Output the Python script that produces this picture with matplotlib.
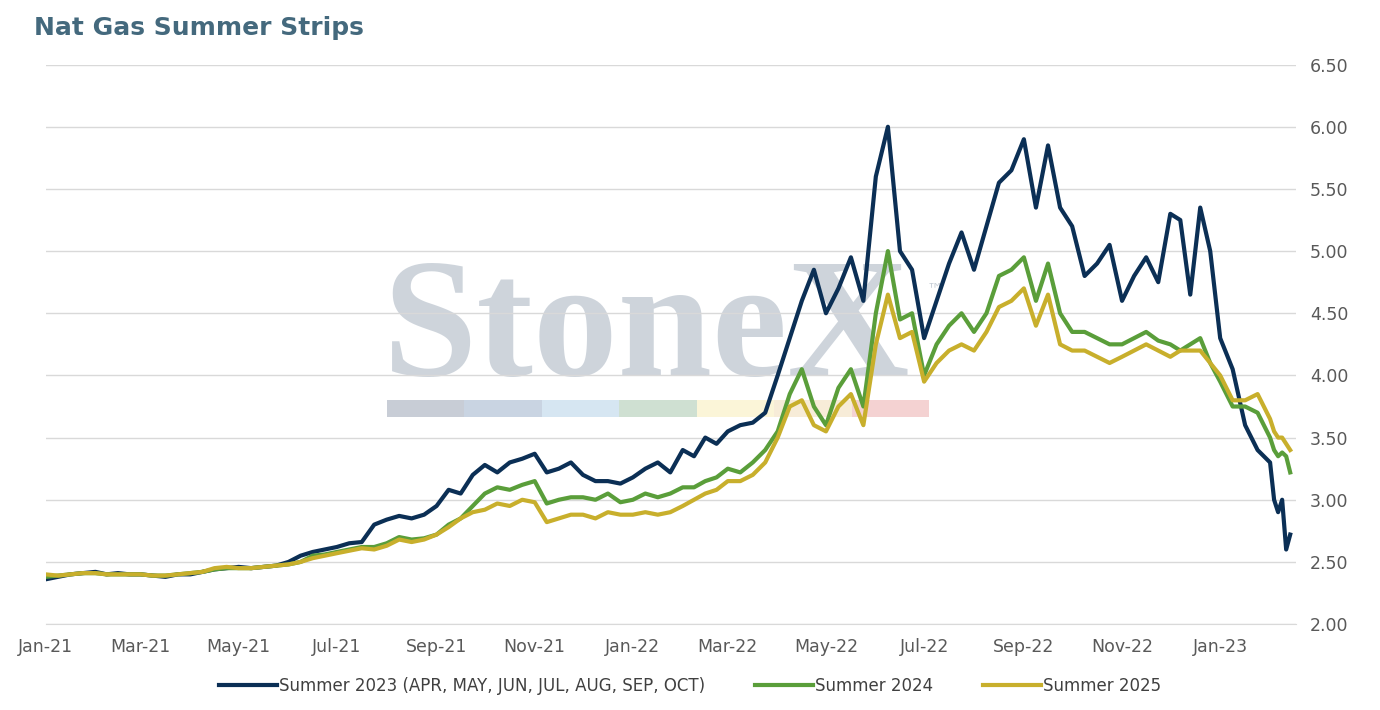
import calendar
import pandas as pd
import matplotlib.pyplot as plt
import matplotlib.dates as mdates
from matplotlib.patches import Rectangle

# values per month, spread evenly through the month
months = pd.date_range('2021-01-01', '2023-02-01', freq='MS')

s23 = [
    [2.36, 2.38, 2.40, 2.41], [2.42, 2.40, 2.41, 2.40], [2.40, 2.39, 2.38, 2.40],
    [2.40, 2.42, 2.44, 2.45], [2.46, 2.45, 2.46, 2.47], [2.50, 2.55, 2.58, 2.60],
    [2.62, 2.65, 2.66, 2.80], [2.84, 2.87, 2.85, 2.88], [2.95, 3.08, 3.05, 3.20],
    [3.28, 3.22, 3.30, 3.33], [3.37, 3.22, 3.25, 3.30], [3.20, 3.15, 3.15, 3.13],
    [3.18, 3.25, 3.30, 3.22], [3.40, 3.35, 3.50, 3.45], [3.55, 3.60, 3.62, 3.70],
    [4.00, 4.30, 4.60, 4.85], [4.50, 4.70, 4.95, 4.60], [5.60, 6.00, 5.00, 4.85],
    [4.30, 4.60, 4.90, 5.15], [4.85, 5.20, 5.55, 5.65], [5.90, 5.35, 5.85, 5.35],
    [5.20, 4.80, 4.90, 5.05], [4.60, 4.80, 4.95, 4.75], [5.30, 5.25, 4.65, 5.35, 5.00],
    [4.30, 4.05, 3.60, 3.40], [3.30, 3.00, 2.90, 3.00, 2.60, 2.72],
]
s24 = [
    [2.38, 2.39, 2.40, 2.41], [2.41, 2.40, 2.40, 2.40], [2.40, 2.39, 2.39, 2.40],
    [2.41, 2.42, 2.44, 2.45], [2.45, 2.45, 2.46, 2.47], [2.48, 2.50, 2.55, 2.56],
    [2.58, 2.60, 2.62, 2.62], [2.65, 2.70, 2.68, 2.69], [2.72, 2.80, 2.85, 2.95],
    [3.05, 3.10, 3.08, 3.12], [3.15, 2.97, 3.00, 3.02], [3.02, 3.00, 3.05, 2.98],
    [3.00, 3.05, 3.02, 3.05], [3.10, 3.10, 3.15, 3.18], [3.25, 3.22, 3.30, 3.40],
    [3.55, 3.85, 4.05, 3.75], [3.60, 3.90, 4.05, 3.75], [4.50, 5.00, 4.45, 4.50],
    [4.00, 4.25, 4.40, 4.50], [4.35, 4.50, 4.80, 4.85], [4.95, 4.60, 4.90, 4.50],
    [4.35, 4.35, 4.30, 4.25], [4.25, 4.30, 4.35, 4.28], [4.25, 4.20, 4.25, 4.30, 4.10],
    [3.95, 3.75, 3.75, 3.70], [3.50, 3.40, 3.35, 3.38, 3.35, 3.22],
]
s25 = [
    [2.40, 2.39, 2.40, 2.41], [2.41, 2.40, 2.40, 2.40], [2.40, 2.39, 2.39, 2.40],
    [2.41, 2.42, 2.45, 2.46], [2.45, 2.45, 2.46, 2.47], [2.48, 2.50, 2.53, 2.55],
    [2.57, 2.59, 2.61, 2.60], [2.63, 2.68, 2.66, 2.68], [2.72, 2.78, 2.85, 2.90],
    [2.92, 2.97, 2.95, 3.00], [2.98, 2.82, 2.85, 2.88], [2.88, 2.85, 2.90, 2.88],
    [2.88, 2.90, 2.88, 2.90], [2.95, 3.00, 3.05, 3.08], [3.15, 3.15, 3.20, 3.30],
    [3.50, 3.75, 3.80, 3.60], [3.55, 3.75, 3.85, 3.60], [4.25, 4.65, 4.30, 4.35],
    [3.95, 4.10, 4.20, 4.25], [4.20, 4.35, 4.55, 4.60], [4.70, 4.40, 4.65, 4.25],
    [4.20, 4.20, 4.15, 4.10], [4.15, 4.20, 4.25, 4.20], [4.15, 4.20, 4.20, 4.20, 4.10],
    [4.00, 3.80, 3.80, 3.85], [3.65, 3.55, 3.50, 3.50, 3.45, 3.40],
]
labels = ['Summer 2023 (APR, MAY, JUN, JUL, AUG, SEP, OCT)', 'Summer 2024', 'Summer 2025']
colors = ['#0B2F55', '#5A9E3A', '#C8AF2C']


def to_series(monthly):
    dates, vals = [], []
    for m, row in zip(months, monthly):
        span = calendar.monthrange(m.year, m.month)[1]
        if m == months[-1]:
            span = 15
        for i, v in enumerate(row):
            dates.append(m + pd.Timedelta(days=span * i / len(row)))
            vals.append(v)
    return dates, vals


fig = plt.figure(figsize=(13.8, 7.1), dpi=100)
ax = fig.add_axes([0.033, 0.121, 0.906, 0.788])

# watermark
ax.text(0.27, 0.445, 'StoneX', transform=ax.transAxes, fontsize=122, family='Liberation Serif',
        fontweight='bold', color='#C9D0D8', alpha=0.9, zorder=0)
ax.text(0.705, 0.59, '™', transform=ax.transAxes, fontsize=12, color='#C9D0D8', zorder=0)
wm = ['#C8CDD6', '#C9D4E2', '#D6E6F2', '#CFE0D2', '#FBF5D8', '#F7ECD8', '#F4D2D2']
for i, c in enumerate(wm):
    ax.add_patch(Rectangle((0.273 + i * 0.062, 0.37), 0.062, 0.03, transform=ax.transAxes,
                           color=c, zorder=0, lw=0))

for s, lab, c in zip([s23, s24, s25], labels, colors):
    d, v = to_series(s)
    ax.plot(d, v, color=c, lw=3, label=lab, zorder=3)

ax.set_xlim(pd.Timestamp('2021-01-01'), pd.Timestamp('2023-02-17'))
ax.set_ylim(2.0, 6.5)
ax.set_yticks([2.0 + 0.5 * i for i in range(10)])
ax.yaxis.set_major_formatter(plt.FormatStrFormatter('%.2f'))
ax.yaxis.tick_right()
ax.xaxis.set_major_locator(mdates.MonthLocator(bymonth=[1, 3, 5, 7, 9, 11]))
ax.xaxis.set_major_formatter(mdates.DateFormatter('%b-%y'))
ax.tick_params(length=0, labelsize=12.5, colors='#595959', pad=10)
ax.grid(axis='y', color='#D9D9D9', lw=1)
for sp in ['top', 'left', 'right']:
    ax.spines[sp].set_visible(False)
ax.spines['bottom'].set_color('#D9D9D9')

fig.text(0.025, 0.95, 'Nat Gas Summer Strips', fontsize=18, fontweight='bold', color='#44697D')
fig.legend(loc='lower center', ncol=3, frameon=False, fontsize=12, handlelength=3.5,
           handletextpad=0.1, bbox_to_anchor=(0.5, 0.0), columnspacing=3, labelcolor='#404040')
fig.savefig('out.png')
